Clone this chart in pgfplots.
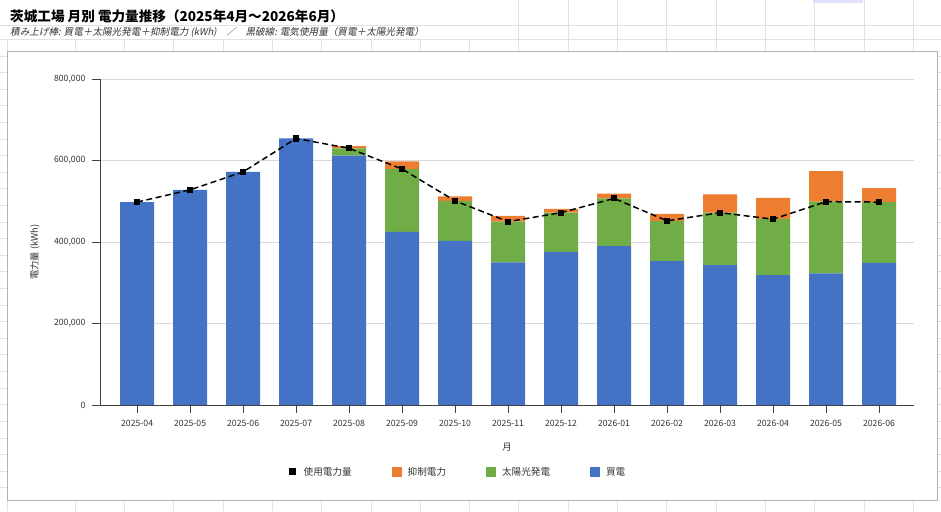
\documentclass[border=0pt]{standalone}
\usepackage{fontspec}
\setmainfont{Noto Sans CJK JP}[AutoFakeSlant=0.2]
\usepackage{pgfplots}
\pgfplotsset{compat=1.18}
\usepackage{pgfplotstable}
\definecolor{cBlue}{HTML}{4472C4}
\definecolor{cOrange}{HTML}{ED7D31}
\definecolor{cGreen}{HTML}{70AD47}
\definecolor{cGrid}{HTML}{D9D9D9}
\definecolor{cAxis}{HTML}{404040}
\definecolor{cSheet}{HTML}{E1E1E1}
\definecolor{cText}{HTML}{333333}

\pgfplotstableread{
x kaiden taiyo yokusei shiyo
0 498000 0 0 498000
1 528000 0 0 528000
2 572000 0 0 572000
3 654000 0 0 654000
4 612000 18000 5000 630000
5 425000 154000 19000 579000
6 403000 98000 11000 501000
7 350000 100000 14000 450000
8 376000 96000 9000 472000
9 390000 117000 12000 507000
10 353000 99000 17000 452000
11 343000 129000 45000 472000
12 319000 137000 52000 456000
13 323000 176000 75000 499000
14 349000 149000 34000 498000
}\datatable

\pgfplotsset{
  common/.style={
    at={(100pt,106pt)}, anchor=south west,
    scale only axis, width=814pt, height=326pt,
    xmin=-0.7, xmax=14.66, ymin=0, ymax=800000,
  }
}

\begin{document}
\begin{tikzpicture}[x=1pt,y=1pt]
\path[use as bounding box] (0,0) rectangle (941,511);
\fill[white] (0,0) rectangle (941,511);
% spreadsheet cell grid
\foreach \i in {0,...,17} {
  \pgfmathsetmacro\xx{75+49.3*\i}
  \draw[cSheet, line width=0.6pt] (\xx,0) -- (\xx,10);
  \draw[cSheet, line width=0.6pt] (\xx,460) -- (\xx,472);
}
\foreach \i in {9,...,17} {
  \pgfmathsetmacro\xx{75+49.3*\i}
  \draw[cSheet, line width=0.6pt] (\xx,472) -- (\xx,511);
}
\draw[cSheet, line width=0.6pt] (7,0) -- (7,472);
\draw[cSheet, line width=0.6pt] (0,486) -- (941,486);
\draw[cSheet, line width=0.6pt] (0,472) -- (941,472);
\foreach \i in {0,...,26} {
  \pgfmathsetmacro\yy{455-16.6*\i}
  \draw[cSheet, line width=0.6pt] (0,\yy) -- (7,\yy);
  \draw[cSheet, line width=0.6pt] (937,\yy) -- (941,\yy);
}
\fill[blue!12] (813,508) rectangle (863,511);
% chart area
\draw[fill=white, draw=black!30, line width=0.8pt] (7,10.3) rectangle (937,459.7);

\node[anchor=base west, font=\bfseries\fontsize{13.6}{16}\selectfont, inner sep=0pt] at (10,489.5)
  {茨城工場 月別 電力量推移（2025年4月〜2026年6月）};
\node[anchor=base west, font=\itshape\fontsize{9.6}{11}\selectfont, text=cText, inner sep=0pt] at (10,475)
  {積み上げ棒: 買電＋太陽光発電＋抑制電力 (kWh)　／　黒破線: 電気使用量（買電＋太陽光発電）};

\begin{axis}[common,
  ybar stacked, bar width=34pt,
  axis x line*=bottom, axis y line*=left,
  axis line style={cAxis, line width=0.8pt, -},
  tick align=outside, major tick length=8pt,
  tick style={cAxis, line width=0.8pt},
  xtick={0,...,14},
  xticklabels={2025-04,2025-05,2025-06,2025-07,2025-08,2025-09,2025-10,2025-11,2025-12,2026-01,2026-02,2026-03,2026-04,2026-05,2026-06},
  ytick={0,200000,400000,600000,800000},
  ymajorgrids, grid style={cGrid, line width=0.8pt},
  scaled y ticks=false,
  yticklabel style={xshift=-3pt, /pgf/number format/.cd, fixed, 1000 sep={,}, assume math mode=true},
  xticklabel style={yshift=-4pt},
  ticklabel style={font=\fontsize{8.7}{10}\selectfont, text=cText},
]
\addplot[fill=cBlue, draw=none] table[x=x, y=kaiden]{\datatable};
\addplot[fill=cGreen, draw=none] table[x=x, y=taiyo]{\datatable};
\addplot[fill=cOrange, draw=none] table[x=x, y=yokusei]{\datatable};
\end{axis}

\begin{axis}[common, hide axis,
  legend columns=4,
  legend style={at={(rel axis cs:0.4392,-0.2055)}, anchor=center, draw=none, fill=none,
    font=\fontsize{9.6}{11}\selectfont, text=cText,
    /tikz/every even column/.append style={column sep=38pt},
    /tikz/every odd column/.append style={column sep=4pt}},
]
\addplot[black, line width=1.5pt, dash pattern=on 6pt off 3.5pt, mark=square*, mark size=2.3pt, mark options={solid},
  legend image code/.code={\path[draw=none] (0,-5pt) rectangle (10pt,5pt); \fill[black, draw=none] (1.5pt,-3.5pt) rectangle (8.5pt,3.5pt);}]
  table[x=x, y=shiyo]{\datatable};
\addlegendentry{使用電力量}
\addlegendimage{legend image code/.code={\fill[cOrange, draw=none] (0,-5pt) rectangle (10pt,5pt);}}
\addlegendentry{抑制電力}
\addlegendimage{legend image code/.code={\fill[cGreen, draw=none] (0,-5pt) rectangle (10pt,5pt);}}
\addlegendentry{太陽光発電}
\addlegendimage{legend image code/.code={\fill[cBlue, draw=none] (0,-5pt) rectangle (10pt,5pt);}}
\addlegendentry{買電}
\end{axis}

\node[font=\fontsize{9.4}{11}\selectfont, text=cText] at (507,64) {月};
\node[rotate=90, font=\fontsize{9.3}{11}\selectfont, text=cText] at (35,259) {電力量 (kWh)};
\end{tikzpicture}
\end{document}
